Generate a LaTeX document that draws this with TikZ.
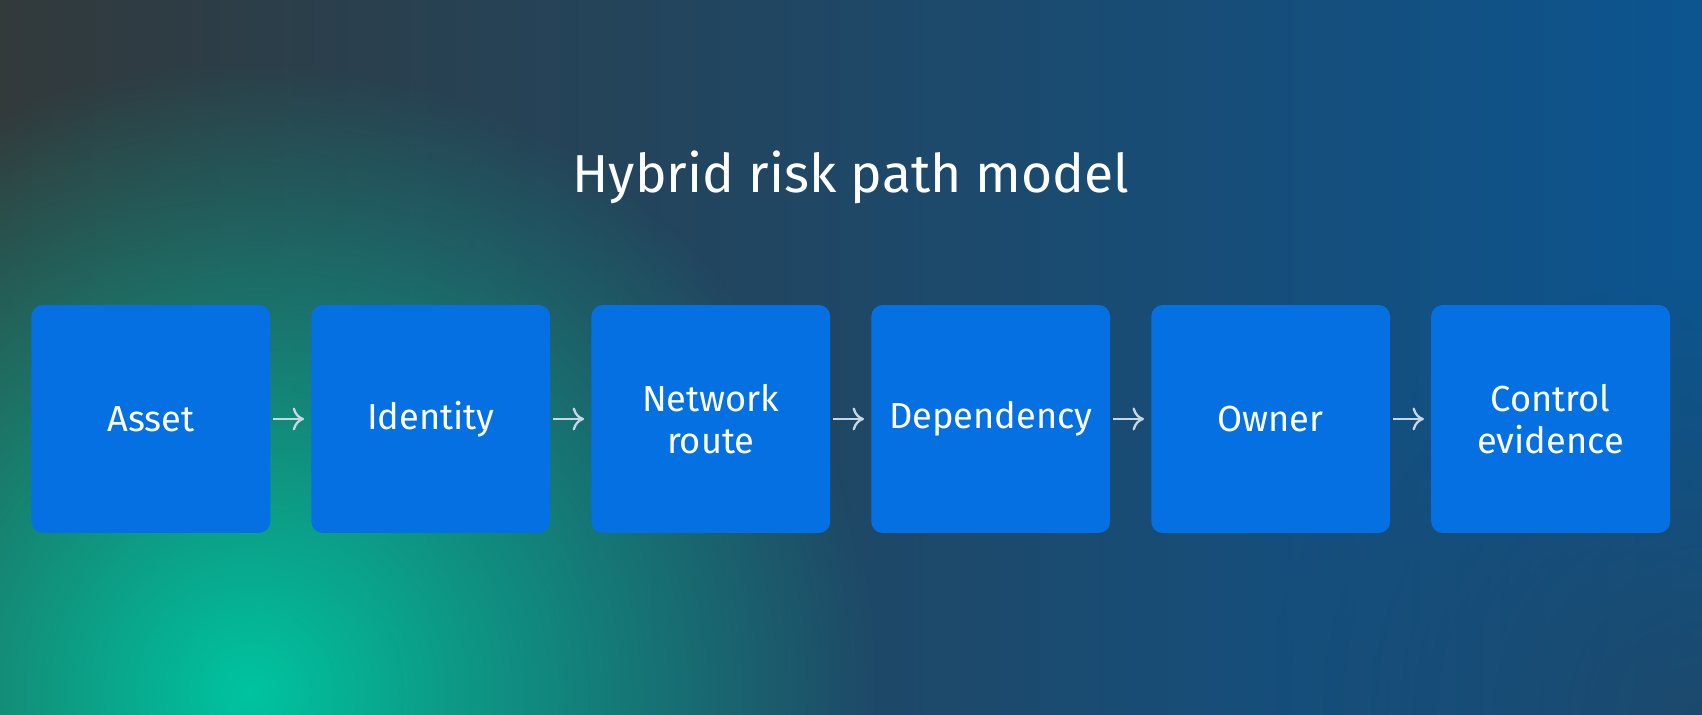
\documentclass[tikz,border=0pt]{standalone}
\usepackage{fontspec}
\setmainfont{Fira Sans}
\usetikzlibrary{positioning,fadings,arrows.meta}
\definecolor{boxblue}{HTML}{0570E2}
\definecolor{bgdark}{HTML}{323A3C}
\definecolor{bgblue}{HTML}{0C5590}
\definecolor{bgteal}{HTML}{00C4A0}
\definecolor{arrowgray}{HTML}{C9D6E4}
\tikzfading[name=glow, inner color=transparent!0, outer color=transparent!100]
\tikzset{
  stepbox/.style={fill=boxblue, rounded corners=3pt, inner sep=0pt, minimum width=2.2cm, minimum height=2.1cm,
    text width=2.2cm, align=center, text=white, font=\fontsize{9.5}{11}\selectfont},
  flow/.style={->, >={To[length=3pt,width=6pt]}, arrowgray, line width=0.6pt, shorten <=0.02cm, shorten >=0.06cm}
}
\begin{document}
\begin{tikzpicture}
  % background
  \useasboundingbox (0,0) rectangle (15.68,6.58);
  \shade[left color=bgdark, right color=bgblue] (0,0) rectangle (15.68,6.58);
  \fill[bgteal, path fading=glow] (2.3,0.2) circle [radius=5.8];
  \fill[bgdark!70!bgblue, path fading=glow, opacity=0.6] (15.68,0) circle [radius=4];
  \node[text=white, font=\fontsize{14}{17}\selectfont] (title) at (7.84,4.95) {Hybrid risk path model};
  % steps
  \node[stepbox] (asset) at (1.39,2.72) {Asset};
  \node[stepbox, right=0.365cm of asset] (identity) {Identity};
  \node[stepbox, right=0.365cm of identity] (route) {Network\\route};
  \node[stepbox, right=0.365cm of route] (dependency) {Dependency};
  \node[stepbox, right=0.365cm of dependency] (owner) {Owner};
  \node[stepbox, right=0.365cm of owner] (control) {Control\\evidence};
  \foreach \a/\b in {asset/identity, identity/route, route/dependency, dependency/owner, owner/control}
    \draw[flow] (\a) -- (\b);
\end{tikzpicture}
\end{document}
